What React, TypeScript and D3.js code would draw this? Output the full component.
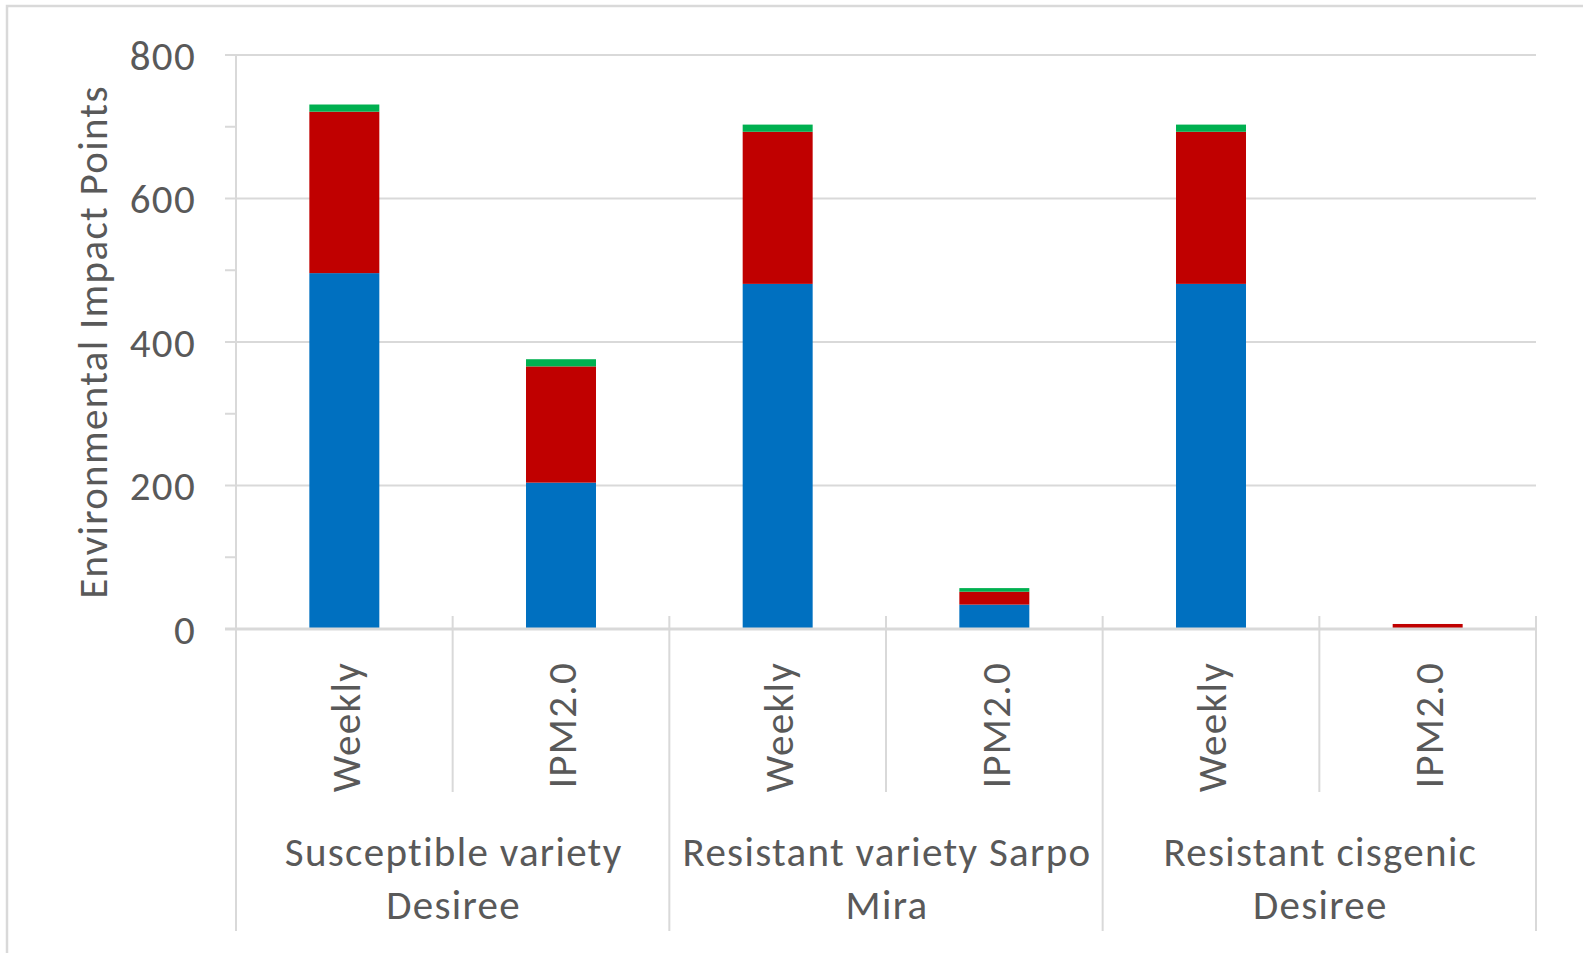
import React from "react";
import * as d3 from "d3";

const categories = ["Weekly", "IPM2.0", "Weekly", "IPM2.0", "Weekly", "IPM2.0"];
const groups = [
  ["Susceptible variety", "Desiree"],
  ["Resistant variety Sarpo", "Mira"],
  ["Resistant cisgenic", "Desiree"],
];
const seriesNames = ["Component A", "Component B", "Component C"];
const seriesBlue = [496, 204, 481, 34, 481, 0];
const seriesRed = [225, 162, 212, 18, 212, 7];
const seriesGreen = [10, 10, 10, 5, 10, 0];
const seriesColors = ["#0070C0", "#C00000", "#00B050"];
const yTicks = [0, 200, 400, 600, 800];
const yMinorTicks = [100, 300, 500, 700];
const yTitle = "Environmental Impact Points";

const W = 1583;
const H = 953;
const FONT = "Carlito, Calibri, Lato, sans-serif";
const TEXT = "#595959";
const GRID = "#d9d9d9";
const FS = 41;
const LS = 1.3;

export default function App() {
  const left = 236;
  const right = 1536;
  const top = 55;
  const bottom = 629;

  const idx = categories.map((_, i) => i);
  const x = d3
    .scaleBand<number>()
    .domain(idx)
    .range([left, right])
    .paddingInner(0.677)
    .paddingOuter(0.677 / 2);
  const step = x.step();
  const slot = (i: number) => left + i * step;
  const y = d3.scaleLinear().domain([0, 800]).range([bottom, top]);

  const rows = idx.map((i) => ({
    i,
    s0: seriesBlue[i],
    s1: seriesRed[i],
    s2: seriesGreen[i],
  }));
  const stacked = d3.stack<any>().keys(["s0", "s1", "s2"])(rows);

  return (
    <svg
      width={W}
      height={H}
      style={{ position: "absolute", left: 0, top: 0, background: "#fff" }}
      fontFamily={FONT}
      letterSpacing={LS}
    >
      {/* chart frame */}
      <rect x={7} y={6} width={W + 20} height={H + 20} fill="#fff" stroke={GRID} strokeWidth={2.5} />

      {/* gridlines */}
      {yTicks.slice(1).map((t) => (
        <line key={"g" + t} x1={225} x2={right} y1={y(t)} y2={y(t)} stroke={GRID} strokeWidth={2} />
      ))}
      {/* minor ticks */}
      {yMinorTicks.map((t) => (
        <line key={"m" + t} x1={225} x2={left} y1={y(t)} y2={y(t)} stroke={GRID} strokeWidth={2} />
      ))}

      {/* bars */}
      {stacked.map((layer, si) => (
        <g key={seriesNames[si]} fill={seriesColors[si]}>
          {layer.map((d, i) =>
            d[1] - d[0] > 0 ? (
              <rect
                key={i}
                x={x(i)}
                width={x.bandwidth()}
                y={y(d[1])}
                height={y(d[0]) - y(d[1])}
              />
            ) : null
          )}
        </g>
      ))}

      {/* y axis line */}
      <line x1={left} x2={left} y1={top} y2={931} stroke={GRID} strokeWidth={2} />
      {/* zero axis line */}
      <line x1={225} x2={right} y1={y(0)} y2={y(0)} stroke={GRID} strokeWidth={3} />

      {/* category separators */}
      {d3.range(1, categories.length + 1).map((k) => (
        <line
          key={"s" + k}
          x1={slot(k)}
          x2={slot(k)}
          y1={616}
          y2={k % 2 === 0 ? 931 : 792}
          stroke={GRID}
          strokeWidth={2}
        />
      ))}

      {/* y tick labels */}
      {yTicks.map((t) => (
        <text
          key={"t" + t}
          x={196}
          y={y(t)}
          dy="0.36em"
          textAnchor="end"
          fontSize={FS}
          fill={TEXT}
        >
          {t}
        </text>
      ))}

      {/* y title */}
      <text
        transform={`translate(107, ${(top + bottom) / 2}) rotate(-90)`}
        textAnchor="middle"
        fontSize={FS}
        fill={TEXT}
      >
        {yTitle}
      </text>

      {/* category labels */}
      {categories.map((c, i) => (
        <text
          key={"c" + i}
          transform={`translate(${slot(i) + step / 2}, 662) rotate(-90)`}
          dy="0.37em"
          textAnchor="end"
          fontSize={FS}
          fill={TEXT}
        >
          {c}
        </text>
      ))}

      {/* group labels */}
      {groups.map((g, gi) => (
        <text
          key={"grp" + gi}
          textAnchor="middle"
          fontSize={FS}
          fill={TEXT}
        >
          {g.map((line, li) => (
            <tspan key={li} x={slot(gi * 2) + step + 1} y={866 + li * 53}>
              {line}
            </tspan>
          ))}
        </text>
      ))}
    </svg>
  );
}
